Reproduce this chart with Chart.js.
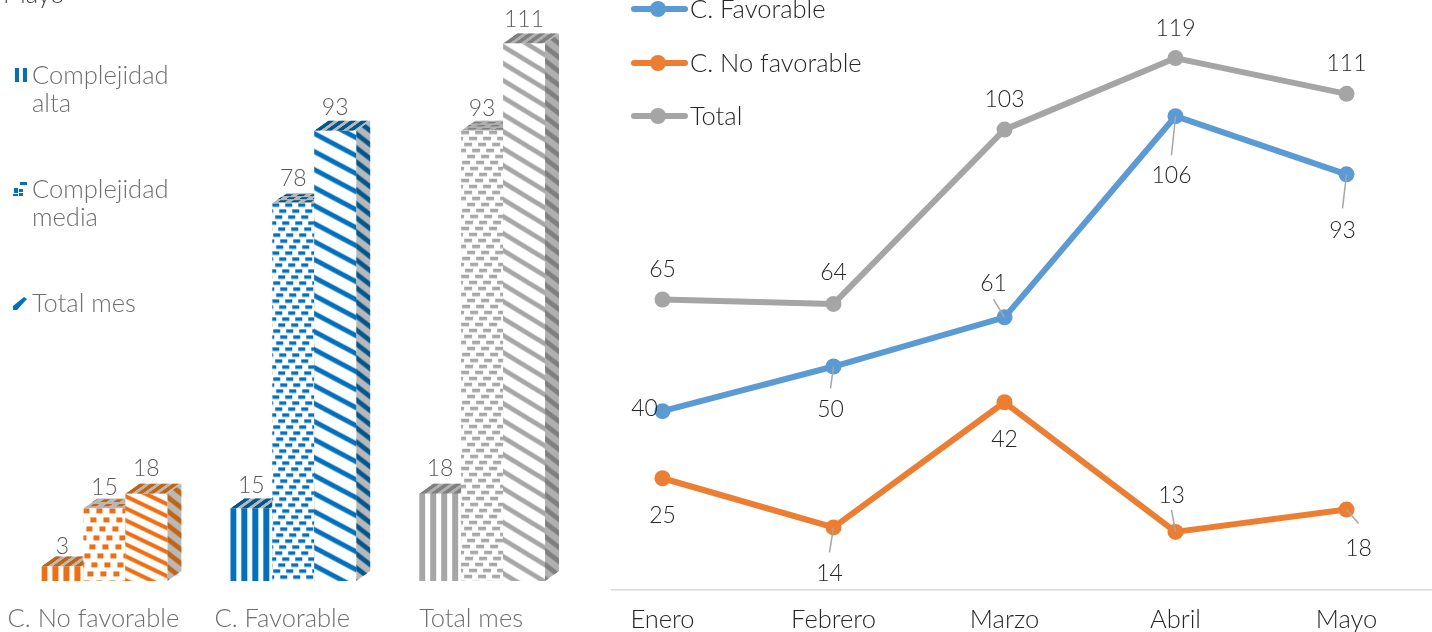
<!DOCTYPE html>
<html>
<head>
<meta charset="utf-8">
<style>
html,body{margin:0;padding:0;background:#fff;overflow:hidden;width:1432px;height:632px}
canvas{position:absolute;top:0;display:block}
#left{left:0}
#right{left:577px;clip-path:inset(0 0 0 34px)}
</style>
<script src="https://cdn.jsdelivr.net/npm/chart.js@4/dist/chart.umd.min.js"></script>
</head>
<body>
<canvas id="left" width="600" height="632"></canvas>
<canvas id="right" width="855" height="632"></canvas>
<script>
// ---------- data ----------
const barCategories = ['C. No favorable', 'C. Favorable', 'Total mes'];
const complejidadAlta = [3, 15, 18];
const complejidadMedia = [15, 78, 93];
const totalMes = [18, 93, 111];
const clippedTitle = 'Mayo';

const months = ['Enero', 'Febrero', 'Marzo', 'Abril', 'Mayo'];
const cFavorable = [40, 50, 61, 106, 93];
const cNoFavorable = [25, 14, 42, 13, 18];
const totalLine = [65, 64, 103, 119, 111];

// ---------- style ----------
const FONT = 'Lato';
const WEIGHT = '300';
const TEXT_SIZE = 25.5, NUM_SIZE = 23;
const ORANGE = '#f26d0f', BLUE = '#0070c0', GREY = '#a6a6a6';
const barInk = [ORANGE, BLUE, GREY];
const barInkDark = ['#c4640f', '#00588f', '#7f7f7f'];
const barFaceBase = ['#b8b8b8', '#b8b8b8', '#b0b0b0'];
const depthX = 14, depthY = 10;

function makeTile(w, h, bg, paint) {
  const c = document.createElement('canvas');
  c.width = w; c.height = h;
  const x = c.getContext('2d');
  if (bg) { x.fillStyle = bg; x.fillRect(0, 0, w, h); }
  paint(x);
  return x.createPattern(c, 'repeat');
}
function stripesTile(ink, bg) {
  return makeTile(11, 11, bg, x => { x.fillStyle = ink; x.fillRect(0, 0, 6, 11); });
}
const dashShift = [0, 8, 3, 11, 6, 1, 9, 4];
function dashTile(ink, bg, dw, dh, rowH, colW) {
  return makeTile(colW, rowH * dashShift.length, bg, x => {
    x.fillStyle = ink;
    dashShift.forEach((s, r) => {
      const px = Math.round(s * colW / 14);
      x.fillRect(px, r * rowH, dw, dh);
      x.fillRect(px - colW, r * rowH, dw, dh);
    });
  });
}
function diagTile(ink, bg, h, w, t) {
  return makeTile(w, h, bg, x => {
    x.fillStyle = ink;
    for (let k = -2; k <= 1; k++) {
      x.beginPath();
      x.moveTo(0, k * h); x.lineTo(w, k * h + h); x.lineTo(w, k * h + h + t); x.lineTo(0, k * h + t);
      x.closePath(); x.fill();
    }
  });
}
const dashSpec = [[6, 5, 9, 13], [7, 3.5, 6, 13], [8, 3.5, 6, 14]];
const diagSpec = [[12, 25, 4.5], [18, 34, 5.5], [17, 28, 5.5]];

const altaFront = barInk.map(c => stripesTile(c, '#ffffff'));
const mediaFront = barInk.map((c, i) => dashTile(c, '#ffffff', ...dashSpec[i]));
const totalFront = barInk.map((c, i) => diagTile(c, '#ffffff', ...diagSpec[i]));
const altaFace = barInkDark.map(c => stripesTile(c, null));
const mediaFace = barInkDark.map((c, i) => dashTile(c, null, ...dashSpec[i]));
const sideFace = barInkDark.map(c => diagTile(c, null, 14, 18, 6));

const frontSets = [altaFront, mediaFront, totalFront];
const topSets = [altaFace, mediaFace, altaFace];

function font(size) { return WEIGHT + ' ' + size + 'px ' + FONT; }

// ---------- 3-D bar drawing ----------
const bars3d = {
  id: 'bars3d',
  beforeDatasetsDraw(chart) {
    const ctx = chart.ctx;
    chart.data.datasets.forEach((ds, di) => {
      chart.getDatasetMeta(di).data.forEach((el, i) => {
        const x1 = el.x - el.width / 2, x2 = el.x + el.width / 2, top = el.y, base = el.base;
        // side face
        ctx.save();
        ctx.beginPath();
        ctx.moveTo(x2, top); ctx.lineTo(x2 + depthX, top - depthY);
        ctx.lineTo(x2 + depthX, base - depthY); ctx.lineTo(x2, base); ctx.closePath();
        ctx.fillStyle = barFaceBase[i]; ctx.fill();
        sideFace[i].setTransform(new DOMMatrix([1, 0, 0, 1, x2, top]));
        ctx.fillStyle = sideFace[i]; ctx.fill();
        ctx.restore();
        // top face
        ctx.save();
        ctx.beginPath();
        ctx.moveTo(x1, top); ctx.lineTo(x1 + depthX, top - depthY);
        ctx.lineTo(x2 + depthX, top - depthY); ctx.lineTo(x2, top); ctx.closePath();
        ctx.fillStyle = barFaceBase[i]; ctx.fill();
        const tp = topSets[di][i];
        const squash = di === 1 ? 0.5 : 0.7;
        tp.setTransform(new DOMMatrix([1, 0, -1.4 * squash, squash, x1, top]));
        ctx.fillStyle = tp; ctx.fill();
        ctx.restore();
        // front face
        const fp = frontSets[di][i];
        fp.setTransform(new DOMMatrix([1, 0, 0, 1, x1, top]));
        el.draw(ctx);
      });
    });
    return false;
  },
  afterDraw(chart) {
    const ctx = chart.ctx;
    ctx.save();
    ctx.textAlign = 'center'; ctx.textBaseline = 'middle';
    ctx.fillStyle = '#595959'; ctx.font = font(NUM_SIZE);
    const lift = [[20, 21, 25], [23, 25, 23], [25, 22, 24]];
    chart.data.datasets.forEach((ds, di) => {
      chart.getDatasetMeta(di).data.forEach((el, i) => {
        ctx.fillText(String(ds.data[i]), el.x, el.y - lift[i][di]);
      });
    });
    // clipped title
    ctx.font = font(TEXT_SIZE);
    ctx.textAlign = 'left'; ctx.textBaseline = 'alphabetic';
    ctx.fillStyle = '#404040';
    ctx.fillText(clippedTitle, 3, 3);
    // legend
    ctx.fillStyle = '#6e6e6e';
    const legendLines = [['Complejidad', 'alta'], ['Complejidad', 'media'], ['Total mes']];
    const legendTop = [76, 190, 304];
    ctx.textBaseline = 'middle';
    legendLines.forEach((lines, k) => lines.forEach((t, j) => ctx.fillText(t, 32, legendTop[k] + j * 28)));
    ctx.fillStyle = BLUE;
    ctx.fillRect(15, 68, 4, 14); ctx.fillRect(23, 68, 4, 14);
    [[20, 182, 7, 3], [14, 188, 4, 5], [19, 189, 4, 3], [13, 194, 5, 2], [19, 193, 4, 3]].forEach(r => ctx.fillRect(...r));
    ctx.beginPath();
    ctx.moveTo(13, 306); ctx.lineTo(24, 297); ctx.lineTo(27, 299); ctx.lineTo(17, 310); ctx.lineTo(13, 310);
    ctx.closePath(); ctx.fill();
    ctx.restore();
  }
};

new Chart(document.getElementById('left'), {
  type: 'bar',
  data: {
    labels: barCategories,
    datasets: [
      { label: 'Complejidad alta', data: complejidadAlta, backgroundColor: altaFront },
      { label: 'Complejidad media', data: complejidadMedia, backgroundColor: mediaFront },
      { label: 'Total mes', data: totalMes, backgroundColor: totalFront }
    ]
  },
  options: {
    responsive: false,
    animation: false,
    events: [],
    layout: { padding: { left: 9.5, right: 23.5, top: 0, bottom: 0 } },
    datasets: { bar: { categoryPercentage: 2 / 3, barPercentage: 1 } },
    plugins: { legend: { display: false }, tooltip: { enabled: false }, title: { display: false } },
    scales: {
      x: {
        grid: { display: false },
        border: { display: false },
        afterFit(s) { s.height = 51; },
        ticks: {
          color: '#6e6e6e', padding: 17, labelOffset: -11, maxRotation: 0, autoSkip: false,
          font: { family: FONT, weight: WEIGHT, size: TEXT_SIZE, lineHeight: 1 }
        }
      },
      y: { display: false, min: 0, max: 120 }
    }
  },
  plugins: [bars3d]
});

// ---------- line chart ----------
const lineColors = ['#5b9bd5', '#ed7d31', '#a5a5a5'];
const labelOffsets = [
  [[-18, -3], [-3, 43], [-11, -34], [-4, 59], [-4, 56]],
  [[0, 37], [-4, 46], [0, 37], [-4, -36], [12, 39]],
  [[0, -30], [0, -31], [0, -30], [0, -30], [0, -30]]
];
const leaderEnds = [
  [null, [-3, 22], [-11, -18], [-4, 39], [-4, 34]],
  [null, [-4, 25], null, [-4, -22], [12, 14]],
  [null, null, null, null, null]
];
const legendRows = [9, 63, 116];

const lineExtras = {
  id: 'lineExtras',
  afterDraw(chart) {
    const ctx = chart.ctx;
    ctx.save();
    ctx.strokeStyle = '#a6a6a6'; ctx.lineWidth = 1.5;
    chart.data.datasets.forEach((ds, di) => {
      chart.getDatasetMeta(di).data.forEach((pt, i) => {
        const e = leaderEnds[di][i];
        if (!e) return;
        ctx.beginPath(); ctx.moveTo(pt.x, pt.y); ctx.lineTo(pt.x + e[0], pt.y + e[1]); ctx.stroke();
      });
    });
    ctx.fillStyle = '#262626'; ctx.font = font(NUM_SIZE);
    ctx.textAlign = 'center'; ctx.textBaseline = 'middle';
    chart.data.datasets.forEach((ds, di) => {
      chart.getDatasetMeta(di).data.forEach((pt, i) => {
        const o = labelOffsets[di][i];
        ctx.fillText(String(ds.data[i]), pt.x + o[0], pt.y + o[1]);
      });
    });
    // legend
    ctx.textAlign = 'left';
    ctx.font = font(TEXT_SIZE);
    chart.data.datasets.forEach((ds, di) => {
      const y = legendRows[di], c = lineColors[di];
      ctx.strokeStyle = c; ctx.lineWidth = 6; ctx.lineCap = 'round';
      ctx.beginPath(); ctx.moveTo(634 - 577, y); ctx.lineTo(685 - 577, y); ctx.stroke();
      ctx.fillStyle = c;
      ctx.beginPath(); ctx.arc(658 - 577, y, 8, 0, Math.PI * 2); ctx.fill();
      ctx.fillStyle = '#262626';
      ctx.fillText(ds.label, 690 - 577, y + 1);
    });
    ctx.restore();
  }
};

new Chart(document.getElementById('right'), {
  type: 'line',
  data: {
    labels: months,
    datasets: [
      { label: 'C. Favorable', data: cFavorable, borderColor: lineColors[0], backgroundColor: lineColors[0] },
      { label: 'C. No favorable', data: cNoFavorable, borderColor: lineColors[1], backgroundColor: lineColors[1] },
      { label: 'Total', data: totalLine, borderColor: lineColors[2], backgroundColor: lineColors[2] }
    ]
  },
  options: {
    responsive: false,
    animation: false,
    events: [],
    layout: { padding: 0, autoPadding: false },
    elements: {
      line: { borderWidth: 6, tension: 0, borderCapStyle: 'round', borderJoinStyle: 'round' },
      point: { radius: 8, borderWidth: 0, hoverRadius: 8 }
    },
    plugins: { legend: { display: false }, tooltip: { enabled: false }, title: { display: false } },
    scales: {
      x: {
        offset: true,
        grid: { display: false },
        border: { display: true, color: '#d9d9d9', width: 1.5 },
        afterFit(s) { s.height = 42; },
        ticks: {
          color: '#262626', padding: 9, maxRotation: 0, autoSkip: false,
          font: { family: FONT, weight: WEIGHT, size: TEXT_SIZE, lineHeight: 1 }
        }
      },
      y: { display: false, min: 0, max: 132 }
    }
  },
  plugins: [lineExtras]
});
</script>
</body>
</html>
